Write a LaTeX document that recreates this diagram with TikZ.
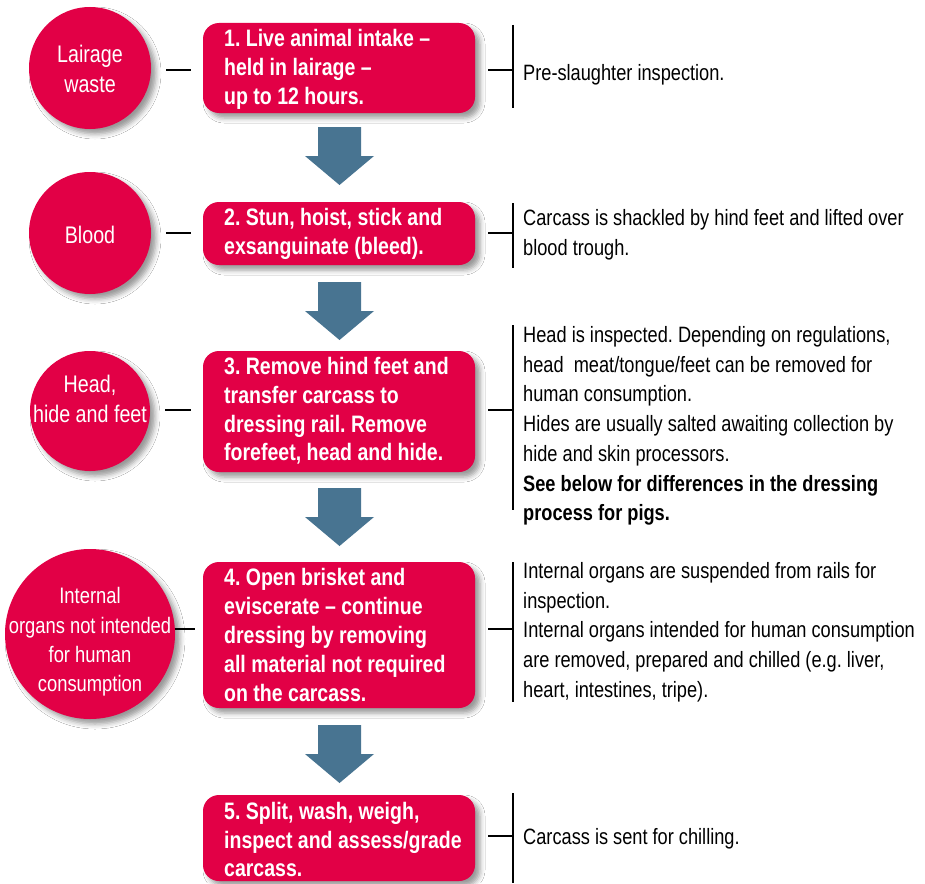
\documentclass[tikz,border=0pt]{standalone}
\usepackage{fontspec}
\setmainfont{Liberation Sans}[FakeStretch=0.82]
\usetikzlibrary{shadows.blur}
\definecolor{myred}{RGB}{226,0,70}
\definecolor{arrowc}{RGB}{72,116,145}
\tikzset{
  shad/.style={blur shadow={shadow xshift=5pt, shadow yshift=-5pt, shadow blur radius=5pt, shadow opacity=40}},
  stepbox/.style={shad, fill=myred, rounded corners=16pt, minimum width=272pt, inner sep=0pt},
  boxtext/.style={anchor=west, align=left, inner sep=0pt, text=white,
    font=\frenchspacing\bfseries\fontsize{23.8pt}{28.8pt}\selectfont},
  wastecirc/.style={shad, circle, fill=myred, inner sep=0pt},
  wastetext/.style={align=center, text=white, inner sep=0pt, font=\frenchspacing\fontsize{24pt}{29.3pt}\selectfont},
  sidetext/.style={anchor=west, align=left, inner sep=0pt, text=black, font=\frenchspacing\fontsize{22.2pt}{29.7pt}\selectfont},
  link/.style={line width=1.8pt, black},
  brack/.style={line width=2.2pt, black},
  barrow/.style={fill=arrowc}
}
\newcommand\blockarrow[1]{\fill[barrow] (#1) ++(-21.5,0) -- ++(43,0) -- ++(0,29) -- ++(13,0) -- ++(-34.5,29) -- ++(-34.5,-29) -- ++(13,0) -- cycle;}
\begin{document}
\begin{tikzpicture}[x=1pt,y=-1pt]
\useasboundingbox[fill=white] (0,0) rectangle (925,883);

% process boxes
\node[stepbox, minimum height=90pt] (b1) at (339,68) {};
\node[stepbox, minimum height=63pt] (b2) at (339,233.5) {};
\node[stepbox, minimum height=121pt] (b3) at (339,411.5) {};
\node[stepbox, minimum height=146pt] (b4) at (339,635) {};
\node[stepbox, minimum height=86pt] (b5) at (339,838) {};
\node[boxtext] (bt1) at (224,69.5) {1. Live animal intake –\\held in lairage –\\up to 12 hours.};
\node[boxtext] (bt2) at (224,233.5) {2. Stun, hoist, stick and\\exsanguinate (bleed).};
\node[boxtext] (bt3) at (224,411) {3. Remove hind feet and\\transfer carcass to\\dressing rail. Remove\\forefeet, head and hide.};
\node[boxtext] (bt4) at (224,635) {4. Open brisket and\\eviscerate – continue\\dressing by removing\\all material not required\\on the carcass.};
\node[boxtext] (bt5) at (224,839.5) {5. Split, wash, weigh,\\inspect and assess/grade\\carcass.};

% waste circles
\node[wastecirc, minimum size=122pt] (c1) at (90,68) {};
\node[wastecirc, minimum size=122pt] (c2) at (90,233) {};
\node[wastecirc, minimum size=120pt] (c3) at (90,411) {};
\node[wastecirc, minimum size=170pt] (c4) at (90,634) {};
\node[wastetext] (t1) at (90,69) {Lairage\\waste};
\node[wastetext] (t2) at (90,235) {Blood};
\node[wastetext] (t3) at (90,399) {Head,\\hide and feet};
\node[wastetext, font=\frenchspacing\fontsize{22.4pt}{29.3pt}\selectfont] (t4) at (90,642) {Internal\\organs not intended\\for human\\consumption};

% block arrows
\coordinate (a1) at (339.5,127);
\coordinate (a2) at (339.5,282);
\coordinate (a3) at (339.5,488);
\coordinate (a4) at (339.5,725);
\blockarrow{a1}
\blockarrow{a2}
\blockarrow{a3}
\blockarrow{a4}

% bracket junctions
\coordinate (k1) at (513,70);
\coordinate (k2) at (513,233);
\coordinate (k3) at (513,410);
\coordinate (k4) at (513,629);
\coordinate (k5) at (513,836);
\coordinate (br1t) at (513,25);  \coordinate (br1b) at (513,108);
\coordinate (br2t) at (513,203); \coordinate (br2b) at (513,268);
\coordinate (br3t) at (513,325); \coordinate (br3b) at (513,510);
\coordinate (br4t) at (513,562); \coordinate (br4b) at (513,702);
\coordinate (br5t) at (513,793); \coordinate (br5b) at (513,883);
\draw[brack] (br1t) -- (br1b);
\draw[brack] (br2t) -- (br2b);
\draw[brack] (br3t) -- (br3b);
\draw[brack] (br4t) -- (br4b);
\draw[brack] (br5t) -- (br5b);

% connectors
\draw[link, shorten <=15pt, shorten >=12pt] (c1.east |- k1) -- (b1.west |- k1);
\draw[link, shorten <=15pt, shorten >=12pt] (c2.east |- k2) -- (b2.west |- k2);
\draw[link, shorten <=15pt, shorten >=12pt] (c3.east |- k3) -- (b3.west |- k3);
\draw[link, shorten >=8pt] (c4.east |- k4) -- (b4.west |- k4);
\draw[link, shorten <=13pt] (b1.east |- k1) -- (k1);
\draw[link, shorten <=13pt] (b2.east |- k2) -- (k2);
\draw[link, shorten <=13pt] (b3.east |- k3) -- (k3);
\draw[link, shorten <=13pt] (b4.east |- k4) -- (k4);
\draw[link, shorten <=13pt] (b5.east |- k5) -- (k5);

% side notes
\node[sidetext] (s1) at (523,75) {Pre-slaughter inspection.};
\node[sidetext] (s2) at (523,235) {Carcass is shackled by hind feet and lifted over\\blood trough.};
\node[sidetext] (s3) at (523,426) {Head is inspected. Depending on regulations,\\head\ \ meat/tongue/feet can be removed for\\human consumption.\\Hides are usually salted awaiting collection by\\hide and skin processors.\\\textbf{See below for differences in the dressing}\\\textbf{process for pigs.}};
\node[sidetext] (s4) at (523,632) {Internal organs are suspended from rails for\\inspection.\\Internal organs intended for human consumption\\are removed, prepared and chilled (e.g. liver,\\heart, intestines, tripe).};
\node[sidetext] (s5) at (523,839) {Carcass is sent for chilling.};
\end{tikzpicture}
\end{document}
